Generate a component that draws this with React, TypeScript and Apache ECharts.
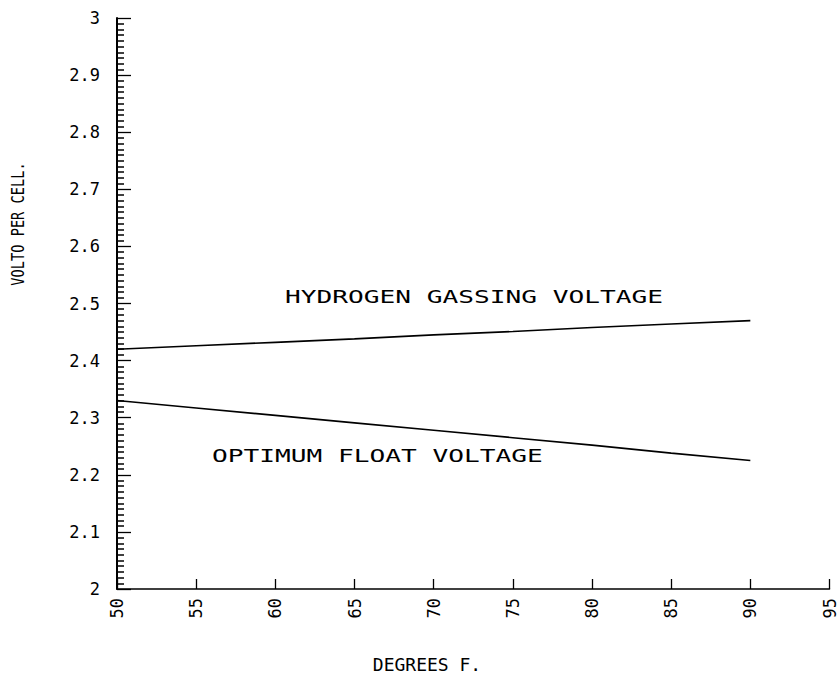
import React, { useEffect, useRef } from "react";
import * as echarts from "echarts";

const temps = [50, 55, 60, 65, 70, 75, 80, 85, 90];
const hydrogenGassing = [2.42, 2.426, 2.432, 2.438, 2.445, 2.451, 2.458, 2.464, 2.47];
const optimumFloat = [2.33, 2.317, 2.304, 2.291, 2.278, 2.265, 2.252, 2.238, 2.225];

const xTitle = "DEGREES F.";
const yTitle = "VOLTO PER CELL.";
const hydrogenLabel = "HYDROGEN GASSING VOLTAGE";
const floatLabel = "OPTIMUM FLOAT VOLTAGE";

const FONT = "DejaVu Sans Mono";

export default function App() {
  const ref = useRef<HTMLDivElement>(null);
  useEffect(() => {
    if (!ref.current) return;
    const chart = echarts.init(ref.current, undefined, { renderer: "svg" });
    const lineStyle = { color: "#000", width: 1.6 };
    chart.setOption({
      animation: false,
      backgroundColor: "#fff",
      grid: { left: 117, right: 6, top: 18, bottom: 96 },
      xAxis: {
        type: "value",
        min: 50,
        max: 95,
        interval: 5,
        axisLine: { show: true, onZero: false, lineStyle: { color: "#000", width: 1.5 } },
        axisTick: { show: true, inside: true, length: 10, lineStyle: { color: "#000", width: 1.3 } },
        splitLine: { show: false },
        axisLabel: {
          rotate: 90,
          margin: 9,
          color: "#000",
          fontFamily: FONT,
          fontSize: 17,
        },
      },
      yAxis: {
        type: "value",
        min: 2,
        max: 3,
        interval: 0.1,
        axisLine: { show: true, onZero: false, lineStyle: { color: "#000", width: 2 } },
        axisTick: { show: true, inside: true, length: 14, lineStyle: { color: "#000", width: 1.3 } },
        minorTick: { show: true, splitNumber: 10, length: 7, lineStyle: { color: "#000", width: 1.5 } },
        splitLine: { show: false },
        axisLabel: {
          margin: 17,
          color: "#000",
          fontFamily: FONT,
          fontSize: 17,
        },
      },
      series: [
        {
          type: "line",
          data: temps.map((t, i) => [t, hydrogenGassing[i]]),
          showSymbol: false,
          lineStyle,
        },
        {
          type: "line",
          data: temps.map((t, i) => [t, optimumFloat[i]]),
          showSymbol: false,
          lineStyle,
        },
      ],
      graphic: [
        {
          type: "text",
          x: 285,
          y: 297,
          scaleX: 1.54,
          style: {
            text: hydrogenLabel,
            fontFamily: FONT,
            fontSize: 17,
            fill: "#000",
            textAlign: "left",
            textVerticalAlign: "middle",
          },
        },
        {
          type: "text",
          x: 212,
          y: 456,
          scaleX: 1.54,
          style: {
            text: floatLabel,
            fontFamily: FONT,
            fontSize: 17,
            fill: "#000",
            textAlign: "left",
            textVerticalAlign: "middle",
          },
        },
        {
          type: "text",
          x: 427,
          y: 664,
          style: {
            text: xTitle,
            fontFamily: FONT,
            fontSize: 18,
            fill: "#000",
            textAlign: "center",
            textVerticalAlign: "middle",
          },
        },
        {
          type: "text",
          x: 18,
          y: 224,
          rotation: Math.PI / 2,
          scaleX: 0.76,
          style: {
            text: yTitle,
            fontFamily: FONT,
            fontSize: 18,
            fill: "#000",
            textAlign: "center",
            textVerticalAlign: "middle",
          },
        },
      ],
    });
    return () => chart.dispose();
  }, []);
  return (
    <div
      ref={ref}
      style={{ position: "fixed", left: 0, top: 0, width: 838, height: 685, background: "#fff" }}
    />
  );
}
